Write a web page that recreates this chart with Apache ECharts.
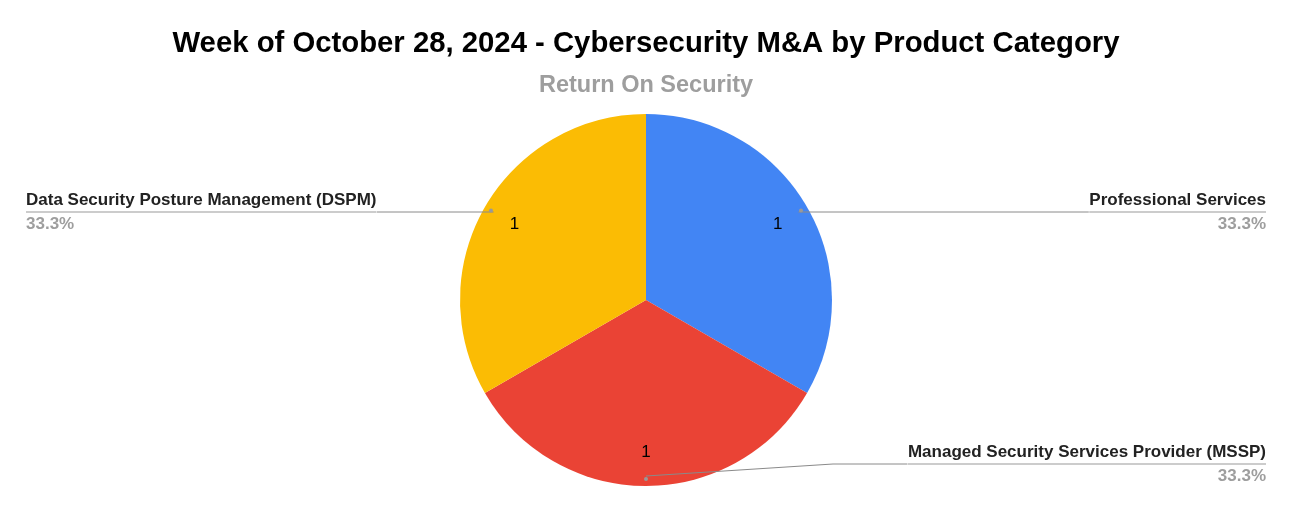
<!DOCTYPE html>
<html>
<head>
<meta charset="utf-8">
<script src="https://cdn.jsdelivr.net/npm/echarts@6/dist/echarts.min.js"></script>
<style>
html,body{margin:0;padding:0;background:#fff;}
#chart{width:1292px;height:512px;}
</style>
</head>
<body>
<div id="chart"></div>
<script>
const titleText = 'Week of October 28, 2024 - Cybersecurity M&A by Product Category';
const subtitleText = 'Return On Security';
const categories = ['Professional Services', 'Managed Security Services Provider (MSSP)', 'Data Security Posture Management (DSPM)'];
const values = [1, 1, 1];
const colors = ['#4285F4', '#EA4335', '#FBBC04'];

const FONT = '"Liberation Sans", Arial, sans-serif';
const center = [646, 300];
const data = categories.map((c, i) => ({ name: c, value: values[i] }));
const total = values.reduce((a, b) => a + b, 0);

const chart = echarts.init(document.getElementById('chart'), null, { renderer: 'canvas' });
chart.setOption({
  animation: false,
  backgroundColor: '#ffffff',
  color: colors,
  title: [
    { text: titleText, left: 'center', top: 22,
      textStyle: { fontFamily: FONT, fontSize: 29.3, fontWeight: 'bold', color: '#000', lineHeight: 34 } },
    { text: subtitleText, left: 'center', top: 67,
      textStyle: { fontFamily: FONT, fontSize: 23.5, fontWeight: 'bold', color: '#9E9E9E', lineHeight: 28 } }
  ],
  series: [
    {
      type: 'pie', center: center, radius: [0, 186], startAngle: 90, clockwise: true, z: 1,
      silent: true, label: { show: false }, labelLine: { show: false },
      itemStyle: { borderWidth: 0 },
      data: data
    },
    {
      type: 'pie', center: center, radius: [112, 186], startAngle: 90, clockwise: true, z: 3,
      silent: true, itemStyle: { color: 'rgba(0,0,0,0)' },
      label: { show: true, position: 'inside', formatter: '{c}', fontFamily: FONT, fontSize: 17, color: '#000' },
      labelLine: { show: false },
      data: data
    },
    {
      type: 'pie', center: center, radius: [0, 176], startAngle: 90, clockwise: true, z: 4,
      silent: true, itemStyle: { color: 'rgba(0,0,0,0)' },
      label: {
        show: true, position: 'outside', alignTo: 'edge', edgeDistance: 26, distanceToLabelLine: 0,
        formatter: function (p) {
          return '{name|' + p.name + '}\n{hr|}\n{pct|' + (p.value / total * 100).toFixed(1) + '%}';
        },
        rich: {
          name: { fontFamily: FONT, fontSize: 17, fontWeight: 'bold', color: '#222', lineHeight: 24 },
          hr: { borderColor: '#8A8A8A', borderWidth: 0.5, width: '100%', height: 0 },
          pct: { fontFamily: FONT, fontSize: 17, fontWeight: 'bold', color: '#9E9E9E', lineHeight: 24 }
        }
      },
      labelLine: { show: true, length: 0, length2: 10, lineStyle: { color: '#8A8A8A', width: 1 } },
      labelLayout: function (params) {
        if (params.dataIndex === 1 && params.labelLinePoints) {
          const pts = params.labelLinePoints;
          const p0 = pts[0];
          const pEnd = pts[pts.length - 1];
          return {
            dy: -12,
            labelLinePoints: [[p0[0], p0[1]], [p0[0] + 187, p0[1] - 12], [pEnd[0], pEnd[1] - 12]]
          };
        }
        return {};
      },
      data: data
    },
    {
      type: 'pie', center: center, radius: [174, 178], startAngle: 90, clockwise: true, z: 5,
      silent: true, itemStyle: { color: 'rgba(0,0,0,0)' },
      label: { show: true, position: 'inside', formatter: '{dot|}',
        rich: { dot: { width: 4, height: 4, borderRadius: 2, backgroundColor: '#999' } } },
      labelLine: { show: false },
      data: data
    }
  ]
});
</script>
</body>
</html>
